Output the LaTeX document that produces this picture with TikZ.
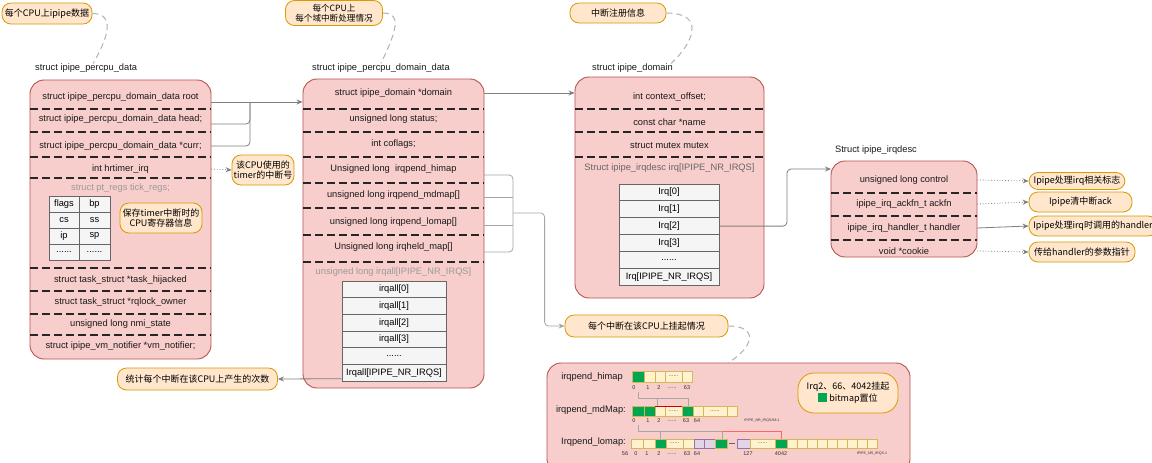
\documentclass[tikz,border=0pt]{standalone}
\usepackage{fontspec}
\setmainfont{Liberation Sans}
\newfontfamily\cjk{Noto Sans CJK SC}
\usetikzlibrary{arrows.meta,calc}
\definecolor{boxfill}{HTML}{F8CECC}
\definecolor{boxline}{HTML}{B85450}
\definecolor{bubfill}{HTML}{FFE6CC}
\definecolor{bubline}{HTML}{D79B00}
\definecolor{cellfill}{HTML}{F5F5F5}
\definecolor{cellline}{HTML}{666666}
\definecolor{connc}{HTML}{7F7F7F}
\definecolor{connl}{HTML}{A6A6A6}
\definecolor{txt}{HTML}{1A1A1A}
\definecolor{gtxt}{HTML}{9A9A9A}
\definecolor{bitg}{HTML}{00A651}
\definecolor{bitc}{HTML}{FFF2CC}
\definecolor{bitcl}{HTML}{D6B656}
\definecolor{bitl}{HTML}{E1D5E7}
\definecolor{bitll}{HTML}{9673A6}
\tikzset{
  box/.style={draw=boxline, fill=boxfill, line width=0.9pt, rounded corners=14pt, inner sep=0pt},
  rowtext/.style={inner sep=0pt, text=txt},
  graytext/.style={inner sep=0pt, text=gtxt},
  divider/.style={draw=black!85, line width=1.1pt, dash pattern=on 8pt off 4pt},
  bubble/.style={draw=bubline, fill=bubfill, line width=0.8pt, rounded corners=9pt,
    font=\cjk\fontsize{9}{10.5}\selectfont, align=center, inner sep=1pt},
  tcell/.style={draw=cellline, fill=cellfill, line width=0.6pt, inner sep=0pt},
  conn/.style={draw=connc, line width=0.8pt},
  lconn/.style={draw=connl, line width=0.8pt},
  dotconn/.style={draw=connc, line width=0.8pt, dotted},
  arr/.style={-{Stealth[length=6pt,width=5pt]}},
  curvy/.style={draw=black!30, line width=1pt, dash pattern=on 6pt off 4pt},
  bitcell/.style={draw=bitcl, fill=bitc, line width=0.5pt},
  bitgreen/.style={draw=bitcl, fill=bitg, line width=0.5pt},
  bitlil/.style={draw=bitll, fill=bitl, line width=0.5pt},
  idx/.style={inner sep=0pt, font=\fontsize{5.5}{6}\selectfont, text=black!80},
  tiny/.style={inner sep=0pt, font=\fontsize{3.6}{4}\selectfont, text=black!80},
  ttl/.style={anchor=west, inner sep=0pt, text=txt}
}
\begin{document}
\begin{tikzpicture}[x=1pt,y=-1pt, every node/.style={font=\fontsize{9.3}{11}\selectfont}]
\useasboundingbox (0,0) rectangle (1152,463);
\fill[white] (0,0) rectangle (1152,463);

% ---------- titles ----------
\node[ttl] (t1) at (35,68) {struct ipipe\_percpu\_data};
\node[ttl] (t2) at (312,68) {struct ipipe\_percpu\_domain\_data};
\node[ttl] (t3) at (592,68) {struct ipipe\_domain};
\node[ttl] (t4) at (835,150) {Struct ipipe\_irqdesc};

% ---------- left box ----------
\node[box, minimum width=181pt, minimum height=279pt] (lbox) at (120.5,219.5) {};
\node[rowtext, minimum width=181pt] (l1) at (120.5,97) {struct ipipe\_percpu\_domain\_data root};
\node[rowtext, minimum width=181pt] (l2) at (120.5,119) {struct ipipe\_percpu\_domain\_data head;};
\node[rowtext, minimum width=181pt] (l3) at (120.5,146) {struct ipipe\_percpu\_domain\_data *curr;};
\node[rowtext, minimum width=181pt] (l4) at (120.5,169) {int hrtimer\_irq};
\node[graytext] (lt) at (120.5,188) {struct pt\_regs tick\_regs;};
\node[rowtext, minimum width=181pt] (l5) at (120.5,280) {struct task\_struct *task\_hijacked};
\node[rowtext, minimum width=181pt] (l6) at (120.5,302) {struct task\_struct *rqlock\_owner};
\node[rowtext, minimum width=181pt] (l7) at (120.5,324) {unsigned long nmi\_state};
\node[rowtext, minimum width=181pt] (l8) at (120.5,346) {struct ipipe\_vm\_notifier *vm\_notifier;};
\foreach \yy in {109,132,157,178,268,291,314,335}
  \draw[divider] (30,\yy) -- (211,\yy);
% regs table
\node[tcell, minimum width=30pt, minimum height=16pt] (g11) at (64,204) {flags};
\node[tcell, minimum width=31pt, minimum height=16pt] (g12) at (94.5,204) {bp};
\node[tcell, minimum width=30pt, minimum height=16pt] (g21) at (64,220) {cs};
\node[tcell, minimum width=31pt, minimum height=16pt] (g22) at (94.5,220) {ss};
\node[tcell, minimum width=30pt, minimum height=16pt] (g31) at (64,236) {ip};
\node[tcell, minimum width=31pt, minimum height=16pt] (g32) at (94.5,236) {sp};
\node[tcell, minimum width=30pt, minimum height=16pt] (g41) at (64,252) {......};
\node[tcell, minimum width=31pt, minimum height=16pt] (g42) at (94.5,252) {......};
\node[bubble, minimum width=82pt, minimum height=30pt] (breg) at (161,218) {保存timer中断时的\\CPU寄存器信息};

% ---------- middle box ----------
\node[box, minimum width=181pt, minimum height=309pt] (mbox) at (393.5,233.5) {};
\node[rowtext, minimum width=181pt] (m1) at (393.5,93) {struct ipipe\_domain *domain};
\node[rowtext, minimum width=181pt] (m2) at (393.5,119) {unsigned long status;};
\node[rowtext, minimum width=181pt] (m3) at (393.5,144) {int coflags;};
\node[rowtext, minimum width=181pt] (m4) at (393.5,169) {Unsigned long\ \ irqpend\_himap};
\node[rowtext, minimum width=181pt] (m5) at (393.5,195) {unsigned long irqpend\_mdmap[]};
\node[rowtext, minimum width=181pt] (m6) at (393.5,222) {unsigned long irqpend\_lomap[]};
\node[rowtext, minimum width=181pt] (m7) at (393.5,247) {Unsigned long irqheld\_map[]};
\node[graytext] (ml) at (393.5,272) {unsigned long irqall[IPIPE\_NR\_IRQS]};
\foreach \yy in {109,132,157,183,208,235,262}
  \draw[divider] (303,\yy) -- (484,\yy);
\node[tcell, minimum width=104pt, minimum height=16.67pt] (q0) at (394,289.3) {irqall[0]};
\node[tcell, minimum width=104pt, minimum height=16.67pt] (q1) at (394,306.0) {irqall[1]};
\node[tcell, minimum width=104pt, minimum height=16.67pt] (q2) at (394,322.7) {irqall[2]};
\node[tcell, minimum width=104pt, minimum height=16.67pt] (q3) at (394,339.3) {irqall[3]};
\node[tcell, minimum width=104pt, minimum height=16.67pt] (q4) at (394,356.0) {......};
\node[tcell, minimum width=104pt, minimum height=16.67pt] (q5) at (394,372.7) {Irqall[IPIPE\_NR\_IRQS]};

% ---------- domain box ----------
\node[box, minimum width=189pt, minimum height=221pt] (dbox) at (669.5,187.5) {};
\node[rowtext, minimum width=189pt] (d1) at (669.5,97) {int context\_offset;};
\node[rowtext, minimum width=189pt] (d2) at (669.5,122) {const char *name};
\node[rowtext, minimum width=189pt] (d3) at (669.5,146) {struct mutex mutex};
\node[inner sep=0pt, text=black!60] (dl) at (669.5,168) {Struct ipipe\_irqdesc irq[IPIPE\_NR\_IRQS]};
\foreach \yy in {109,132,157}
  \draw[divider] (575,\yy) -- (764,\yy);
\node[tcell, minimum width=100pt, minimum height=16.83pt] (r0) at (669,192.4) {Irq[0]};
\node[tcell, minimum width=100pt, minimum height=16.83pt] (r1) at (669,209.2) {Irq[1]};
\node[tcell, minimum width=100pt, minimum height=16.83pt] (r2) at (669,226.1) {Irq[2]};
\node[tcell, minimum width=100pt, minimum height=16.83pt] (r3) at (669,242.9) {Irq[3]};
\node[tcell, minimum width=100pt, minimum height=16.83pt] (r4) at (669,259.7) {......};
\node[tcell, minimum width=100pt, minimum height=16.83pt] (r5) at (669,276.6) {Irq[IPIPE\_NR\_IRQS]};

% ---------- irqdesc box ----------
\node[box, minimum width=146pt, minimum height=96pt] (ibox) at (904,209) {};
\node[rowtext, minimum width=146pt] (c1) at (904,180) {unsigned long control};
\node[rowtext, minimum width=146pt] (c2) at (904,204) {ipipe\_irq\_ackfn\_t ackfn};
\node[rowtext, minimum width=146pt] (c3) at (904,228) {ipipe\_irq\_handler\_t handler};
\node[rowtext, minimum width=146pt] (c4) at (904,251) {void *cookie};
\foreach \yy in {193,216,240}
  \draw[divider] (831,\yy) -- (977,\yy);

% ---------- bubbles ----------
\node[bubble, minimum width=90pt, minimum height=21pt] (b1) at (47,13.5) {每个CPU上ipipe数据};
\node[bubble, minimum width=97pt, minimum height=25pt, font=\cjk\fontsize{8.6}{9.6}\selectfont] (b2) at (334,13) {每个CPU上\\每个域中断处理情况};
\node[bubble, minimum width=96pt, minimum height=20pt] (b3) at (618,13) {中断注册信息};
\node[bubble, minimum width=62pt, minimum height=30pt] (b4) at (263,170) {该CPU使用的\\timer的中断号};
\node[bubble, minimum width=163pt, minimum height=22pt] (b5) at (646.5,326) {每个中断在该CPU上挂起情况};
\node[bubble, minimum width=160pt, minimum height=22pt] (b6) at (197.5,379) {统计每个中断在该CPU上产生的次数};
\node[bubble, minimum width=96pt, minimum height=17pt] (e1) at (1077,181) {Ipipe处理irq相关标志};
\node[bubble, minimum width=103pt, minimum height=20pt] (e2) at (1080.5,202) {Ipipe清中断ack};
\node[bubble, minimum width=128pt, minimum height=20pt] (e3) at (1093,226) {Ipipe处理irq时调用的handler};
\node[bubble, minimum width=106pt, minimum height=20pt] (e4) at (1082,252) {传给handler的参数指针};

% ---------- connectors ----------
\coordinate (jn) at (250,102);
\draw[conn, arr] ([yshift=-5pt]l1.east) -- ([yshift=-5pt]l1.east -| mbox.west);
\draw[conn, rounded corners=4pt] ([yshift=-5pt]l2.east) -| (jn);
\draw[conn, rounded corners=4pt] (l3.east) -| (jn);
\draw[dotconn, arr] (l4.east) -- (b4.west);
\draw[conn, arr] (m1.east) -- (m1.east -| dbox.west);
\coordinate (brk) at (513,213);
\draw[lconn, rounded corners=4pt] ([yshift=-6pt]m4.east) -| (brk);
\draw[lconn] ([yshift=-2pt]m5.east) -- ([yshift=-2pt]m5.east -| brk);
\draw[lconn] ([yshift=-3pt]m6.east) -- ([yshift=-3pt]m6.east -| brk);
\draw[lconn, rounded corners=4pt] ([yshift=-5pt]m7.east) -| (brk);
\draw[lconn, rounded corners=4pt, arr] (brk) -| ([xshift=-20pt]b5.west) -- (b5.west);
\draw[conn, arr] ([yshift=-6pt]q5.west) -- (b6.east);
\coordinate (irqin) at (831,169);
\draw[conn, rounded corners=4pt, arr] (r2.east) -| ($(irqin)+(-44,0)$) -- (irqin);
\draw[dotconn, arr] (c1.east) -- (e1.west);
\draw[dotconn, arr] (c2.east) -- (e2.west);
\draw[conn, arr] (c3.east) -- (e3.west);
\draw[dotconn, arr] (c4.east) -- (e4.west);
\draw[curvy] (b1.east) .. controls +(24,0) and +(14,-24) .. ([xshift=7pt]t1.north);
\draw[curvy] (b2.east) .. controls +(22,0) and +(12,-26) .. (t2.north);
\draw[curvy] (b3.east) .. controls +(40,0) and +(22,-20) .. ([xshift=-2pt]t3.north east);

% ---------- bottom panel ----------
\node[box, minimum width=363pt, minimum height=110pt] (p) at (728.5,418) {};
\draw[curvy] (b5.east) .. controls +(30,0) and +(26,-16) .. (p.north);
\node[anchor=east, inner sep=0pt, text=txt] (hl) at (623,377) {irqpend\_himap};
\node[anchor=east, inner sep=0pt, text=txt] (ml2) at (626,410) {irqpend\_mdMap:};
\node[anchor=east, inner sep=0pt, text=txt] (ll) at (626,442) {Irqpend\_lomap:};
% himap
\draw[bitgreen] (632,371) rectangle (644,382);
\draw[bitcell] (644,371) rectangle (655,382);
\draw[bitcell] (655,371) rectangle (665,382);
\draw[bitcell] (665,371) rectangle (682,382);
\draw[bitcell] (682,371) rectangle (692,382);
\node[idx] at (673.5,376) {......};
\node[idx] at (634,388) {0};
\node[idx] at (648,388) {1};
\node[idx] at (659,388) {2};
\node[idx] at (672,388) {......};
\node[idx] at (687,388) {63};
% mdmap
\draw[bitgreen] (632,406) rectangle (644,416);
\draw[bitgreen] (644,406) rectangle (655,416);
\draw[bitcell] (655,406) rectangle (665,416);
\draw[bitcell] (665,406) rectangle (682,416);
\draw[bitgreen] (682,406) rectangle (693,416);
\draw[bitcell] (693,406) rectangle (703,416);
\draw[bitcell] (703,406) rectangle (727,416);
\draw[bitcell] (727,406) rectangle (737,416);
\draw[red!80!black, line width=0.8pt] (655,406) -- (682,406);
\node[idx] at (673.5,411) {......};
\node[idx] at (715,411) {......};
\node[idx] at (634,421) {0};
\node[idx] at (648,421) {1};
\node[idx] at (659,421) {2};
\node[idx] at (672,421) {......};
\node[idx] at (686,421) {63};
\node[idx] at (697,421) {64};
\node[tiny] at (762,421) {IPIPE\_NR\_IRQS/64-1};
% lomap
\draw[bitcell] (631,439) rectangle (643,448);
\draw[bitcell] (643,439) rectangle (655,448);
\draw[bitgreen] (655,439) rectangle (666,448);
\draw[bitcell] (666,439) rectangle (683,448);
\draw[bitcell] (683,439) rectangle (694,448);
\draw[bitlil] (694,439) rectangle (704,448);
\draw[bitlil] (704,439) rectangle (715,448);
\draw[bitgreen] (715,439) rectangle (727,448);
\draw[black!60, line width=0.6pt] (729,443.5) -- (735,443.5);
\draw[bitlil] (737,439) rectangle (750,448);
\draw[bitcell] (750,439) rectangle (775,448);
\draw[bitgreen] (775,439) rectangle (787,448);
\foreach \xx in {787,797,807,817,827,837,847,857,867}
  \draw[bitcell] (\xx,439) rectangle ({\xx+10},448);
\node[idx] at (674.5,443.5) {......};
\node[idx] at (762.5,443.5) {......};
\node[idx] at (625,454) {56};
\node[idx] at (636,454) {0};
\node[idx] at (647,454) {1};
\node[idx] at (659,454) {2};
\node[idx] at (672,454) {......};
\node[idx] at (687,454) {63};
\node[idx] at (697,454) {64};
\node[idx] at (748,454) {127};
\node[idx] at (781,454) {4042};
\node[tiny] at (872,454) {IPIPE\_NR\_IRQS-1};
% bit links
\draw[black!35, line width=0.5pt] (638,392) -- (638,398) -- (688,398) -- (688,406);
\draw[black!35, line width=0.5pt] (657,398) -- (657,406);
\draw[black!35, line width=0.5pt] (638,425) -- (638,431) -- (722,431) -- (722,439);
\draw[black!35, line width=0.5pt] (660,431) -- (660,439);
\draw[red!60, line width=0.6pt] (722,431) -- (781,431) -- (781,439);
% legend
\node[bubble, minimum width=100pt, minimum height=40pt, rounded corners=16pt] (b7) at (848,393)
  {Irq2、66、4042挂起\\{\color{bitg}\rule{9pt}{9pt}} bitmap置位};
\end{tikzpicture}
\end{document}
